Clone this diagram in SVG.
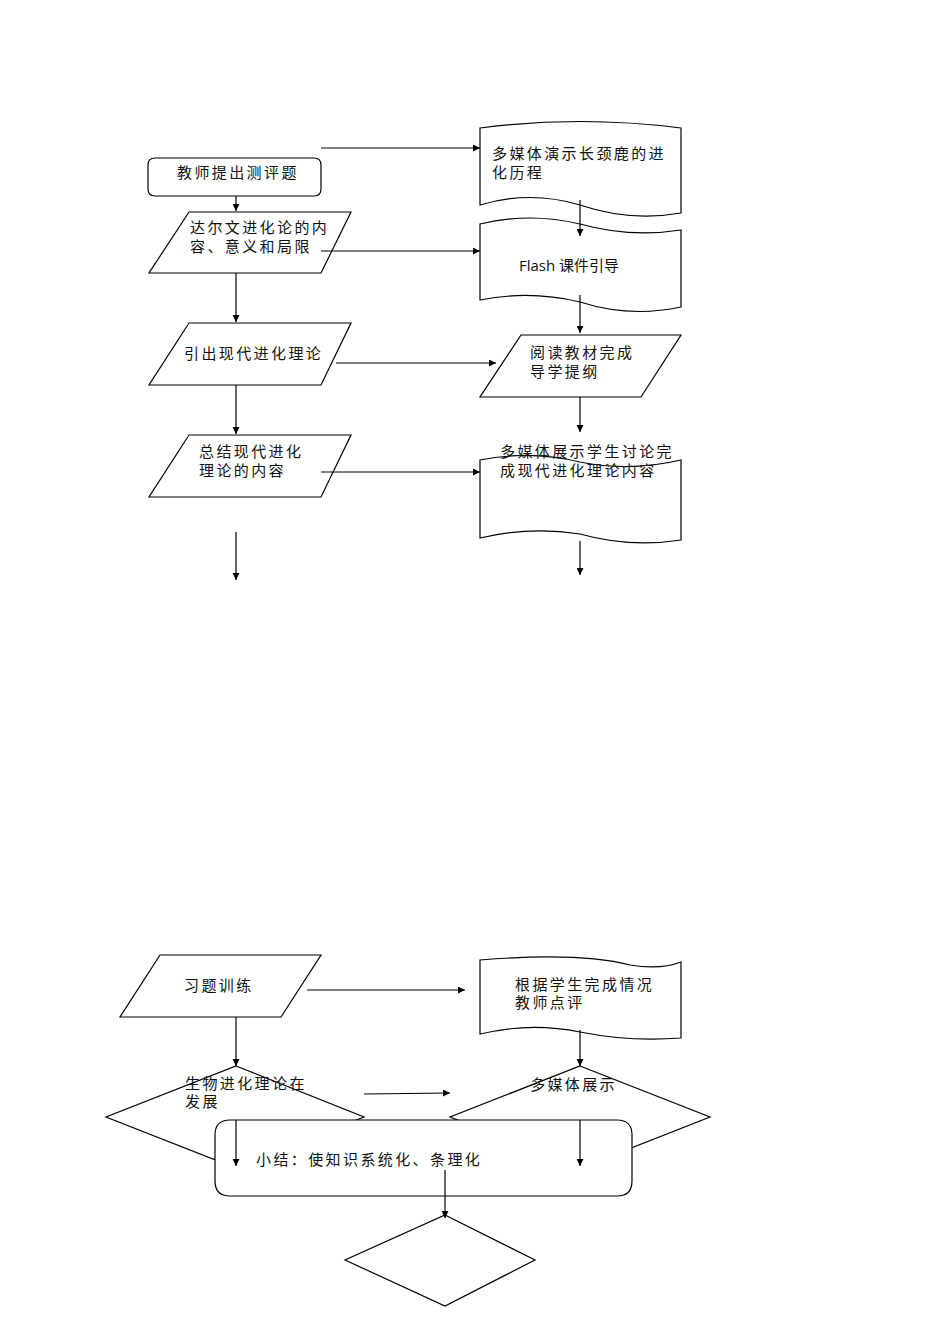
<svg xmlns="http://www.w3.org/2000/svg" width="950" height="1344" viewBox="0 0 950 1344">
<style>
.s{fill:#fff;stroke:#000;stroke-width:1.2}
.t{font-family:"Noto Sans CJK SC",sans-serif;font-size:15px;letter-spacing:2.4px;fill:#111}
.c{stroke:#000;stroke-width:1.2;fill:none;marker-end:url(#a)}
</style>
<defs><marker id="a" viewBox="0 0 10 10" refX="10" refY="5" markerWidth="7" markerHeight="7" orient="auto" markerUnits="userSpaceOnUse"><path d="M0,0L10,5L0,10z"/></marker></defs>
<rect width="950" height="1344" fill="#fff"/>
<g id="n1"><path class="s" d="M155,158H314Q321,158 321,165V189Q321,196 314,196H155Q148,196 148,189V165Q148,158 155,158Z"/><text class="t" x="177" y="178">教师提出测评题</text></g>
<g id="n2"><polygon class="s" points="189,212 351,212 321,273 149,273"/><text class="t" x="190" y="233">达尔文进化论的内</text><text class="t" x="190" y="252">容、意义和局限</text></g>
<g id="n3"><polygon class="s" points="189,323 351,323 321,385 149,385"/><text class="t" x="184" y="359">引出现代进化理论</text></g>
<g id="n4"><polygon class="s" points="189,435 351,435 321,497 149,497"/><text class="t" x="199" y="457">总结现代进化</text><text class="t" x="199" y="476">理论的内容</text></g>
<g id="r1"><path class="s" d="M480,128Q580,115 681,128V213Q630,222 580,205Q530,190 480,205Z"/><text class="t" x="492" y="159">多媒体演示长颈鹿的进</text><text class="t" x="492" y="178">化历程</text></g>
<g id="r2"><path class="s" d="M480,224Q530,212 580,224Q630,238 681,230V307Q630,318 580,302Q530,290 480,300Z"/><text class="t" x="519" y="271" style="font-family:'Open Sans','Noto Sans CJK SC',sans-serif;letter-spacing:0">Flash 课件引导</text></g>
<g id="r3"><polygon class="s" points="521,335 681,335 641,397 480,397"/><text class="t" x="530" y="358">阅读教材完成</text><text class="t" x="530" y="377">导学提纲</text></g>
<g id="r4"><path class="s" d="M480,460Q530,450 580,462Q630,472 681,460V540Q630,548 580,534Q530,526 480,538Z"/><text class="t" x="500" y="457">多媒体展示学生讨论完</text><text class="t" x="500" y="476">成现代进化理论内容</text></g>
<g id="b1"><polygon class="s" points="160,955 321,955 281,1017 120,1017"/><text class="t" x="184" y="991">习题训练</text></g>
<g id="b2"><path class="s" d="M480,960Q580,952 630,965Q660,970 681,962V1038Q630,1042 580,1032Q530,1022 480,1034Z"/><text class="t" x="515" y="990">根据学生完成情况</text><text class="t" x="515" y="1008">教师点评</text></g>
<g id="b3"><polygon class="s" points="236,1066 364,1117 236,1168 106,1117"/><text class="t" x="185" y="1089">生物进化理论在</text><text class="t" x="185" y="1107">发展</text></g>
<g id="b4"><polygon class="s" points="580,1066 710,1117 580,1168 450,1117"/><text class="t" x="530" y="1090">多媒体展示</text></g>
<g id="b5"><path class="s" d="M230,1120H617Q632,1120 632,1135V1181Q632,1196 617,1196H230Q215,1196 215,1181V1135Q215,1120 230,1120Z"/><text class="t" x="256" y="1165">小结：使知识系统化、条理化</text></g>
<g id="b6"><polygon class="s" points="445,1215 535,1260 445,1306 345,1260"/></g>
<g id="connectors">
<path class="c" d="M236,196V211"/><path class="c" d="M236,273V322"/><path class="c" d="M236,385V434"/><path class="c" d="M236,532V580"/>
<path class="c" d="M321,148H480"/><path class="c" d="M321,251H480"/><path class="c" d="M336,363H496"/><path class="c" d="M321,472H480"/>
<path class="c" d="M580,200V236"/><path class="c" d="M580,295V333"/><path class="c" d="M580,397V432"/><path class="c" d="M580,541V575"/>
<path class="c" d="M307,990H465"/><path class="c" d="M580,1030V1066"/><path class="c" d="M236,1017V1066"/><path class="c" d="M364,1094L450,1093"/>
<path class="c" d="M236,1120V1166"/><path class="c" d="M580,1120V1166"/><path class="c" d="M445,1170V1218"/>
</g>
</svg>
